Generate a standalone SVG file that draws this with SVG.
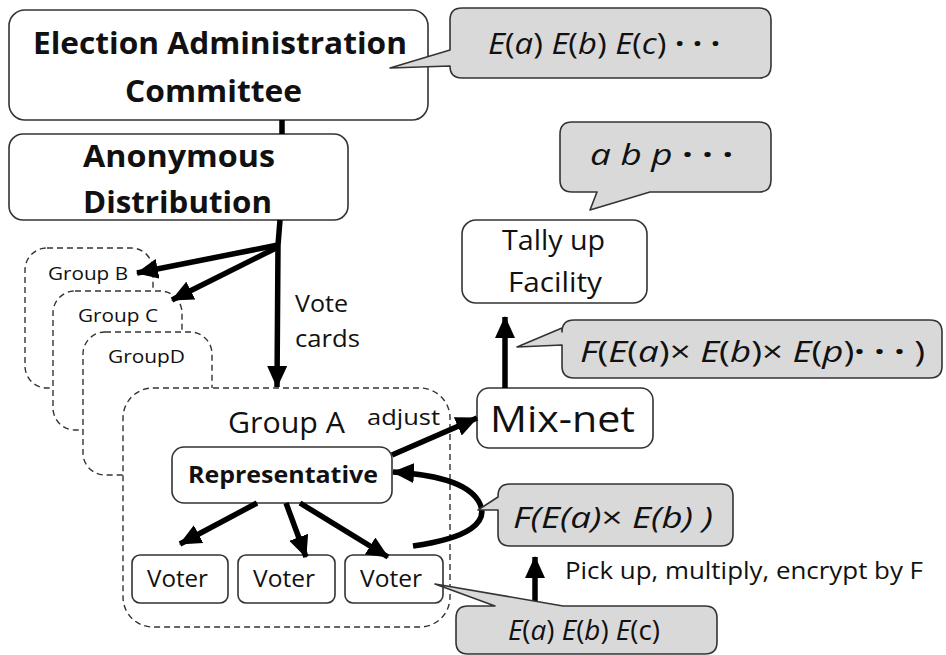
<svg xmlns="http://www.w3.org/2000/svg" width="946" height="655" viewBox="0 0 946 655">
<style>
.box{fill:#fff;stroke:#333;stroke-width:1.6}
.grp{fill:#fff;stroke:#333;stroke-width:1.4;stroke-dasharray:6 4}
.call{fill:#d9d9d9;stroke:#333;stroke-width:1.6;stroke-linejoin:round}
.t{font-family:"Open Sans",Lato,sans-serif;fill:#111}
.b{font-weight:bold}
.conn{stroke:#000;stroke-width:5.5;fill:none}
.i{font-style:italic}
</style>
<defs>
<marker id="ah" markerUnits="userSpaceOnUse" markerWidth="22" markerHeight="20" refX="21" refY="10" orient="auto">
<path d="M0,0 L22,10 L0,20 z" fill="#000"/>
</marker>
</defs>

<g id="groupB"><rect class="grp" x="25" y="248" width="128" height="140" rx="22"/><text class="t" x="48" y="280" font-size="18" textLength="80" lengthAdjust="spacingAndGlyphs">Group B</text></g>
<g id="groupC"><rect class="grp" x="53" y="291" width="129" height="139" rx="22"/><text class="t" x="78" y="322" font-size="18" textLength="80" lengthAdjust="spacingAndGlyphs">Group C</text></g>
<g id="groupD"><rect class="grp" x="83" y="332" width="129" height="143" rx="22"/><text class="t" x="108" y="363" font-size="18" textLength="77" lengthAdjust="spacingAndGlyphs">GroupD</text></g>
<g id="groupA"><rect class="grp" x="123" y="388" width="327" height="239" rx="30"/><text class="t" x="228" y="433" font-size="29" textLength="117" lengthAdjust="spacingAndGlyphs">Group A</text></g>

<g id="eac"><rect class="box" x="9" y="10" width="419" height="110" rx="16"/>
<text class="t b" x="33" y="54" font-size="31" textLength="374" lengthAdjust="spacingAndGlyphs">Election Administration</text>
<text class="t b" x="125" y="102" font-size="31" textLength="177" lengthAdjust="spacingAndGlyphs">Committee</text></g>

<g id="anon"><rect class="box" x="9" y="134" width="339" height="86" rx="14"/>
<text class="t b" x="83" y="167" font-size="31" textLength="192" lengthAdjust="spacingAndGlyphs">Anonymous</text>
<text class="t b" x="83" y="213" font-size="31" textLength="189" lengthAdjust="spacingAndGlyphs">Distribution</text></g>

<g id="tally"><rect class="box" x="462" y="220" width="185" height="83" rx="14"/>
<text class="t" x="502" y="250" font-size="27" textLength="103" lengthAdjust="spacingAndGlyphs">Tally up</text>
<text class="t" x="508" y="292" font-size="27" textLength="94" lengthAdjust="spacingAndGlyphs">Facility</text></g>

<g id="mixnet"><rect class="box" x="477" y="388" width="176" height="60" rx="12"/>
<text class="t" x="490" y="432" font-size="36" textLength="145" lengthAdjust="spacingAndGlyphs">Mix-net</text></g>

<g id="rep"><rect class="box" x="172" y="447" width="220" height="56" rx="12"/>
<text class="t b" x="188" y="483" font-size="24" textLength="190" lengthAdjust="spacingAndGlyphs">Representative</text></g>

<g id="voter1"><rect class="box" x="132" y="555" width="96" height="48" rx="8"/><text class="t" x="147" y="587" font-size="23" textLength="61" lengthAdjust="spacingAndGlyphs">Voter</text></g>
<g id="voter2"><rect class="box" x="238" y="555" width="97" height="48" rx="8"/><text class="t" x="253" y="587" font-size="23" textLength="62" lengthAdjust="spacingAndGlyphs">Voter</text></g>
<g id="voter3"><rect class="box" x="345" y="555" width="98" height="48" rx="8"/><text class="t" x="360" y="587" font-size="23" textLength="62" lengthAdjust="spacingAndGlyphs">Voter</text></g>

<g id="connectors">
<line class="conn" x1="282" y1="120" x2="282" y2="134"/>
<polyline class="conn" points="280,220 278,245 277,387" marker-end="url(#ah)"/>
<line class="conn" x1="278" y1="245" x2="137" y2="273" marker-end="url(#ah)"/>
<line class="conn" x1="278" y1="247" x2="172" y2="300" marker-end="url(#ah)"/>
<line class="conn" x1="392" y1="455" x2="477" y2="418" marker-end="url(#ah)"/>
<line class="conn" x1="505" y1="388" x2="505" y2="317" marker-end="url(#ah)"/>
<line class="conn" x1="257" y1="503" x2="180" y2="544" marker-end="url(#ah)"/>
<line class="conn" x1="286" y1="503" x2="306" y2="557" marker-end="url(#ah)"/>
<line class="conn" x1="300" y1="503" x2="388" y2="557" marker-end="url(#ah)"/>
<path class="conn" d="M413,546 C470,538 488,522 480,504 C470,482 430,474 393,472" marker-end="url(#ah)"/>
<line class="conn" x1="535" y1="601" x2="535" y2="557" marker-end="url(#ah)"/>
</g>

<g id="labels">
<text class="t" x="295" y="312" font-size="24" textLength="53" lengthAdjust="spacingAndGlyphs">Vote</text>
<text class="t" x="295" y="347" font-size="24" textLength="65" lengthAdjust="spacingAndGlyphs">cards</text>
<text class="t" x="367" y="425" font-size="22" textLength="73" lengthAdjust="spacingAndGlyphs">adjust</text>
<text class="t" x="565" y="579" font-size="23" textLength="358" lengthAdjust="spacingAndGlyphs">Pick up, multiply, encrypt by F</text>
</g>

<g id="callout1"><path class="call" d="M462,8 H759 Q771,8 771,20 V66 Q771,78 759,78 H462 Q450,78 450,66 V66 L390,68 L450,50 V20 Q450,8 462,8 Z"/>
<text class="t" x="488" y="54" font-size="30" textLength="232" lengthAdjust="spacingAndGlyphs"><tspan class="i">E</tspan>(<tspan class="i">a</tspan>) <tspan class="i">E</tspan>(<tspan class="i">b</tspan>) <tspan class="i">E</tspan>(<tspan class="i">c</tspan>) <tspan class="b">· · ·</tspan></text></g>

<g id="callout2"><path class="call" d="M572,122 H759 Q771,122 771,134 V180 Q771,192 759,192 H650 L590,210 L597,192 H572 Q560,192 560,180 V134 Q560,122 572,122 Z"/>
<text class="t" x="590" y="165" font-size="30" textLength="143" lengthAdjust="spacingAndGlyphs"><tspan class="i">a</tspan>  <tspan class="i">b</tspan>  <tspan class="i">p</tspan>  <tspan class="b">· · ·</tspan></text></g>

<g id="callout3"><path class="call" d="M574,320 H930 Q942,320 942,332 V366 Q942,378 930,378 H574 Q562,378 562,366 V345 L517,347 L562,328 V332 Q562,320 574,320 Z"/>
<text class="t" x="580" y="362" font-size="30" textLength="345" lengthAdjust="spacingAndGlyphs"><tspan class="i">F</tspan>(<tspan class="i">E</tspan>(<tspan class="i">a</tspan>)× <tspan class="i">E</tspan>(<tspan class="i">b</tspan>)× <tspan class="i">E</tspan>(<tspan class="i">p</tspan>)<tspan class="b">· · ·</tspan> )</text></g>

<g id="callout4"><path class="call" d="M510,484 H721 Q733,484 733,496 V534 Q733,546 721,546 H510 Q498,546 498,534 V510 L478,510 L498,497 V496 Q498,484 510,484 Z"/>
<text class="t i" x="513" y="528" font-size="30" textLength="200" lengthAdjust="spacingAndGlyphs">F(E(a)<tspan font-style="normal">×</tspan> E(b) )</text></g>

<g id="callout5"><path class="call" d="M468,606 H495 L435,584 L563,606 H705 Q717,606 717,618 V642 Q717,654 705,654 H468 Q456,654 456,642 V618 Q456,606 468,606 Z"/>
<text class="t" x="508" y="640" font-size="27" textLength="152" lengthAdjust="spacingAndGlyphs"><tspan class="i">E</tspan>(<tspan class="i">a</tspan>) <tspan class="i">E</tspan>(<tspan class="i">b</tspan>) <tspan class="i">E</tspan>(c)</text></g>
</svg>
